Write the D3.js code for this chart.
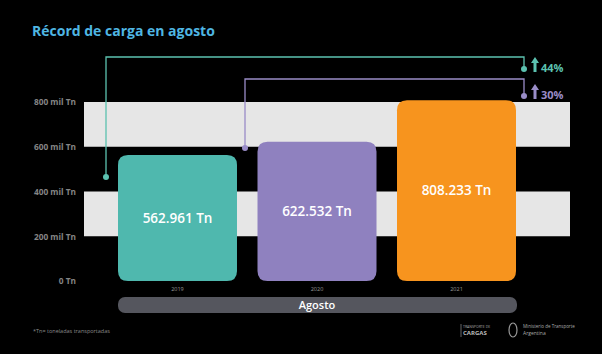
<!DOCTYPE html>
<html><head><meta charset="utf-8">
<script src="https://cdn.jsdelivr.net/npm/d3@7"></script>
<style>html,body{margin:0;padding:0;background:#000;}svg{display:block;}</style>
</head><body>
<svg id="c" width="602" height="354"></svg>
<script>
const title = "Récord de carga en agosto";
const years = ["2019", "2020", "2021"];
const values = [562961, 622532, 808233];
const valueLabels = ["562.961 Tn", "622.532 Tn", "808.233 Tn"];
const barColors = ["#4fb8ae", "#8f81bf", "#f7941e"];
const tickValues = [0, 200000, 400000, 600000, 800000];
const tickLabels = ["0 Tn", "200 mil Tn", "400 mil Tn", "600 mil Tn", "800 mil Tn"];
const bandPairs = [[200000, 400000], [600000, 800000]];
const groupLabel = "Agosto";
const growthLabels = ["44%", "30%"];
const growthColors = ["#5cc2b0", "#9a8dc8"];
const footnote = "*Tn= toneladas transportadas";

const svg = d3.select("#c");
const font = "'Open Sans', 'Noto Sans', sans-serif";
svg.append("rect").attr("width", 602).attr("height", 354).attr("fill", "#000");

const y = d3.scaleLinear().domain([0, 800000]).range([281, 102]);
const x = d3.scaleBand().domain(years).range([118, 516]).paddingInner(0.147).paddingOuter(0);

// title
svg.append("text").attr("x", 32).attr("y", 36).text(title)
  .attr("font-family", font).attr("font-weight", 700).attr("font-size", 14)
  .attr("fill", "#4fb6e3");

// bands
svg.selectAll("rect.band").data(bandPairs).join("rect").attr("class", "band")
  .attr("x", 84).attr("width", 570 - 84)
  .attr("y", d => y(d[1])).attr("height", d => y(d[0]) - y(d[1]))
  .attr("fill", "#e6e6e6");

// y axis labels
const yAxis = d3.axisLeft(y).tickValues(tickValues).tickFormat((d, i) => tickLabels[i]).tickSize(0).tickPadding(0);
const ga = svg.append("g").attr("transform", "translate(76,0)").call(yAxis);
ga.select(".domain").remove();
ga.selectAll("text").attr("font-family", font).attr("font-weight", 700).attr("font-size", 8.3)
  .attr("fill", "#858585").attr("dy", "0.35em");

// connectors (annotation lines)
const tealDotY = 177, purpDotY = 148;
const xT = 106, xP = 245, xR = 524;
svg.append("path").attr("d", `M${xT},${tealDotY}V57H${xR}V69`).attr("fill", "none")
  .attr("stroke", growthColors[0]).attr("stroke-width", 1.3);
svg.append("path").attr("d", `M${xP},${purpDotY}V79H${xR}V96`).attr("fill", "none")
  .attr("stroke", growthColors[1]).attr("stroke-width", 1.3);
[[xT, tealDotY, 0], [xR, 69, 0], [xP, purpDotY, 1], [xR, 96, 1]].forEach(d => {
  svg.append("circle").attr("cx", d[0]).attr("cy", d[1]).attr("r", 3).attr("fill", growthColors[d[2]]);
});

// bars
svg.selectAll("path.bar").data(values).join("path").attr("class", "bar")
  .attr("d", (d, i) => {
    const x0 = x(years[i]), w = x.bandwidth(), y0 = y(d), y1 = y(0), r = 10;
    return `M${x0},${y0 + r}Q${x0},${y0} ${x0 + r},${y0}H${x0 + w - r}Q${x0 + w},${y0} ${x0 + w},${y0 + r}` +
      `V${y1 - r}Q${x0 + w},${y1} ${x0 + w - r},${y1}H${x0 + r}Q${x0},${y1} ${x0},${y1 - r}Z`;
  })
  .attr("fill", (d, i) => barColors[i]);

svg.selectAll("text.val").data(values).join("text").attr("class", "val")
  .attr("x", (d, i) => x(years[i]) + x.bandwidth() / 2)
  .attr("y", d => (y(d) + y(0)) / 2).attr("dy", "0.35em")
  .attr("text-anchor", "middle").text((d, i) => valueLabels[i])
  .attr("font-family", font).attr("font-weight", 600).attr("font-size", 13.5).attr("fill", "#fff");

// year labels
svg.selectAll("text.yr").data(years).join("text").attr("class", "yr")
  .attr("x", d => x(d) + x.bandwidth() / 2).attr("y", 291)
  .attr("text-anchor", "middle").text(d => d)
  .attr("font-family", font).attr("font-size", 5.5).attr("fill", "#9a9a9a");

// group bar
svg.append("rect").attr("x", 118).attr("y", 297).attr("width", 399).attr("height", 16).attr("rx", 7)
  .attr("fill", "#55565e");
svg.append("text").attr("x", 317).attr("y", 305).attr("dy", "0.35em").attr("text-anchor", "middle")
  .text(groupLabel).attr("font-family", font).attr("font-weight", 600).attr("font-size", 11).attr("fill", "#fff");

// growth arrows
[[57, 72, 0], [84, 99, 1]].forEach(d => {
  const c = growthColors[d[2]], ax = 535;
  svg.append("path").attr("d", `M${ax - 4},${d[0] + 6}L${ax},${d[0]}L${ax + 4},${d[0] + 6}H${ax + 1.5}V${d[1]}H${ax - 1.5}V${d[0] + 6}Z`).attr("fill", c);
  svg.append("text").attr("x", 541).attr("y", d[1]).text(growthLabels[d[2]])
    .attr("font-family", font).attr("font-weight", 700).attr("font-size", 11).attr("fill", c);
});

// footnote
svg.append("text").attr("x", 33).attr("y", 333).text(footnote)
  .attr("font-family", font).attr("font-size", 5.5).attr("fill", "#8a8a8a");

// logos
svg.append("line").attr("x1", 461).attr("x2", 461).attr("y1", 324).attr("y2", 337).attr("stroke", "#aaa").attr("stroke-width", 0.6);
svg.append("text").attr("x", 463).attr("y", 328).text("TRANSPORTE DE")
  .attr("font-family", font).attr("font-size", 3.5).attr("fill", "#aaa");
svg.append("text").attr("x", 463).attr("y", 335).text("CARGAS")
  .attr("font-family", font).attr("font-weight", 700).attr("font-size", 6).attr("fill", "#bbb");
svg.append("ellipse").attr("cx", 513).attr("cy", 330).attr("rx", 4).attr("ry", 7).attr("fill", "none").attr("stroke", "#999").attr("stroke-width", 1.2);
svg.append("text").attr("x", 523).attr("y", 328).text("Ministerio de Transporte")
  .attr("font-family", font).attr("font-size", 4.5).attr("fill", "#aaa");
svg.append("text").attr("x", 523).attr("y", 335).text("Argentina")
  .attr("font-family", font).attr("font-size", 5).attr("fill", "#aaa");
</script>
</body></html>
